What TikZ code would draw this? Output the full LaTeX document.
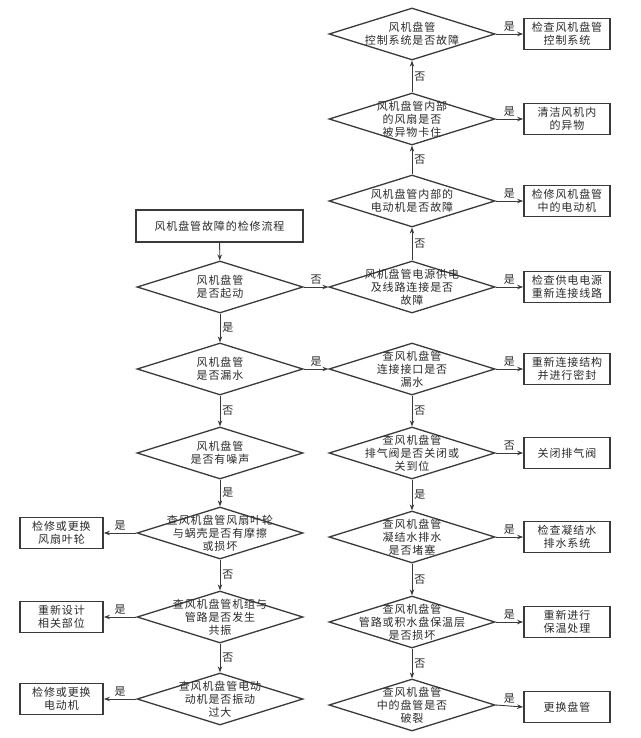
\documentclass[tikz,border=0pt]{standalone}
\usepackage{fontspec}
\setmainfont{Noto Sans CJK SC}[LetterSpace=8]
\usetikzlibrary{shapes.geometric,arrows.meta}
\definecolor{linec}{HTML}{3A3A3A}
\definecolor{textc}{HTML}{2B2B2B}
\newcommand{\txt}{\fontsize{11}{13}\selectfont}
\tikzset{
  dia/.style={draw=linec, line width=1.3pt, shape=diamond, inner sep=0pt, minimum width=166pt, minimum height=52pt},
  box/.style={draw=linec, line width=1.8pt, inner sep=0pt, minimum width=86pt, minimum height=31pt, align=center, font=\txt, text=textc},
  lbox/.style={box, minimum width=83pt},
  arr/.style={draw=linec, line width=0.9pt, -{Stealth[length=6pt,width=4.5pt]}},
  lab/.style={font=\txt, text=textc, inner sep=2pt},
  dtext/.style={align=center, font=\txt, text=textc, inner sep=0pt}
}
\begin{document}
\begin{tikzpicture}[x=1pt,y=-1pt]
\fill[white] (0,0) rectangle (640,738);
\useasboundingbox (0,0) rectangle (640,738);
% title
\node[box, minimum width=167pt, minimum height=32pt] (title) at (219.5,226) {风机盘管故障的检修流程};
% left column
\node[dia, label={[dtext]center:风机盘管\\是否起动}] (l1) at (220,287) {};
\node[dia, label={[dtext]center:风机盘管\\是否漏水}] (l2) at (220,369) {};
\node[dia, label={[dtext]center:风机盘管\\是否有噪声}] (l3) at (220,453) {};
\node[dia, label={[dtext]center:查风机盘管风扇叶轮\\与蜗壳是否有摩擦\\或损坏}] (l4) at (220,533) {};
\node[dia, label={[dtext]center:查风机盘管机组与\\管路是否发生\\共振}] (l5) at (220,617) {};
\node[dia, label={[dtext]center:查风机盘管电动\\动机是否振动\\过大}] (l6) at (220,699) {};
\node[lbox] (bl4) at (61.5,533) {检修或更换\\风扇叶轮};
\node[lbox] (bl5) at (61.5,617) {重新设计\\相关部位};
\node[lbox] (bl6) at (61.5,699) {检修或更换\\电动机};
% right column
\node[dia, label={[dtext]center:风机盘管\\控制系统是否故障}] (r1) at (412,34) {};
\node[dia, label={[dtext]center:风机盘管内部\\的风扇是否\\被异物卡住}] (r2) at (412,119) {};
\node[dia, label={[dtext]center:风机盘管内部的\\电动机是否故障}] (r3) at (412,201) {};
\node[dia, label={[dtext]center:风机盘管电源供电\\及线路连接是否\\故障}] (r4) at (412,287) {};
\node[dia, label={[dtext]center:查风机盘管\\连接接口是否\\漏水}] (r5) at (412,369) {};
\node[dia, label={[dtext]center:查风机盘管\\排气阀是否关闭或\\关到位}] (r6) at (412,453) {};
\node[dia, label={[dtext]center:查风机盘管\\凝结水排水\\是否堵塞}] (r7) at (412,537) {};
\node[dia, label={[dtext]center:查风机盘管\\管路或积水盘保温层\\是否损坏}] (r8) at (412,622) {};
\node[dia, label={[dtext]center:查风机盘管\\中的盘管是否\\破裂}] (r9) at (412,705) {};
\node[box] (br1) at (567,34) {检查风机盘管\\控制系统};
\node[box] (br2) at (567,119) {清洁风机内\\的异物};
\node[box] (br3) at (567,201) {检修风机盘管\\中的电动机};
\node[box] (br4) at (567,287) {检查供电电源\\重新连接线路};
\node[box] (br5) at (567,369) {重新连接结构\\并进行密封};
\node[box] (br6) at (567,453) {关闭排气阀};
\node[box] (br7) at (567,537) {检查凝结水\\排水系统};
\node[box] (br8) at (567,622) {重新进行\\保温处理};
\node[box] (br9) at (567,707) {更换盘管};
% connectors left column
\draw[arr] (title) -- (l1);
\draw[arr] (l1) -- node[lab,right]{是} (l2);
\draw[arr] (l2) -- node[lab,right]{否} (l3);
\draw[arr] (l3) -- node[lab,right]{是} (l4);
\draw[arr] (l4) -- node[lab,right]{否} (l5);
\draw[arr] (l5) -- node[lab,right]{否} (l6);
\draw[arr] (l4.west) -- node[lab,above]{是} (bl4.east);
\draw[arr] (l5.west) -- node[lab,above]{是} (bl5.east);
\draw[arr] (l6.west) -- node[lab,above]{是} (bl6.east);
% cross connectors
\draw[arr] (l1.east) -- node[lab,above]{否} (r4.west);
\draw[arr] (l2.east) -- node[lab,above]{是} (r5.west);
% right column
\draw[arr] (r4) -- node[lab,right]{否} (r3);
\draw[arr] (r3) -- node[lab,right]{否} (r2);
\draw[arr] (r2) -- node[lab,right]{否} (r1);
\draw[arr] (r5) -- node[lab,right]{否} (r6);
\draw[arr] (r6) -- node[lab,right]{是} (r7);
\draw[arr] (r7) -- node[lab,right]{否} (r8);
\draw[arr] (r8) -- node[lab,right]{否} (r9);
\draw[arr] (r1.east) -- node[lab,above]{是} (br1.west);
\draw[arr] (r2.east) -- node[lab,above]{是} (br2.west);
\draw[arr] (r3.east) -- node[lab,above]{是} (br3.west);
\draw[arr] (r4.east) -- node[lab,above]{是} (br4.west);
\draw[arr] (r5.east) -- node[lab,above]{是} (br5.west);
\draw[arr] (r6.east) -- node[lab,above]{否} (br6.west);
\draw[arr] (r7.east) -- node[lab,above]{是} (br7.west);
\draw[arr] (r8.east) -- node[lab,above]{是} (br8.west);
\draw[arr] (r9.east) -- node[lab,above]{是} (br9.west);
\end{tikzpicture}
\end{document}
